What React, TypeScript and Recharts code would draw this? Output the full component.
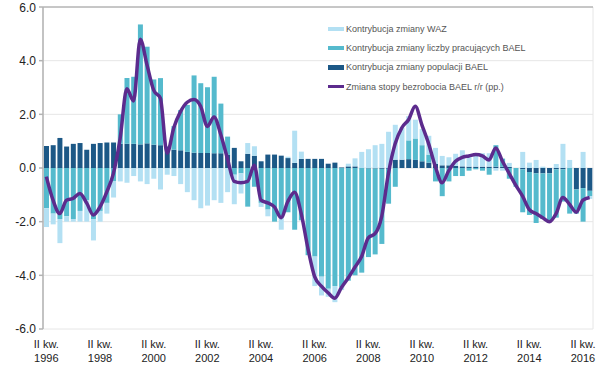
import React from 'react';
import { ComposedChart, Bar, Line, XAxis, YAxis, CartesianGrid } from 'recharts';

// Quarters from II kw. 1996 to III kw. 2016
const romans = ['I', 'II', 'III', 'IV'];
const quarterLabels: { q: string; year: string }[] = [];
for (let k = 0; k < 82; k++) {
  const qi = (1 + k) % 4;
  const year = 1996 + Math.floor((1 + k) / 4);
  quarterLabels.push({ q: romans[qi] + ' kw.', year: String(year) });
}

// Kontrybucja zmiany populacji BAEL
const popContrib = [
  0.82, 0.85, 1.12, 0.8, 0.9, 0.93, 0.68, 0.9, 0.93, 0.95,
  0.95, 0.9, 0.9, 0.9, 0.88, 0.92, 0.87, 0.85, 0.8, 0.68,
  0.66, 0.6, 0.57, 0.56, 0.56, 0.55, 0.55, 0.5, 0.75, 0.25,
  0.53, 0.46, 0.25, 0.5, 0.5, 0.46, 0.37, 0.19, 0.34, 0.34,
  0.34, 0.34, 0.16, 0.2, 0.02, 0.06, 0.06, 0.0, -0.02, -0.02,
  -0.03, -0.03, 0.31, 0.31, 0.33, 0.3, 0.25, 0.2, 0.15, 0.1,
  0.1, 0.08, 0.06, 0.05, 0.05, 0.05, 0.05, 0.05, 0.05, 0.04,
  0.0, -0.05, -0.15, -0.2, -0.2, -0.2, -0.05, -0.05, 0.0, -0.8,
  -0.75, -0.85,
];

// Kontrybucja zmiany liczby pracujących BAEL
const empContrib = [
  -1.5, -1.7, -1.9, -1.8, -1.9, -1.6, -1.2, -1.9, -1.6, -1.3,
  -0.5, 1.1, 2.45, 2.5, 4.47, 3.6, 2.43, 2.5, 0.0, 0.88,
  1.5, 1.75, 2.88, 2.6, 2.45, 2.85, 1.85, 0.67, -0.25, -0.2,
  -1.44, -0.7, -1.3, -1.55, -2.0, -1.8, -1.65, -2.3, -1.95, -3.25,
  -3.3, -4.05, -4.5, -4.4, -4.45, -4.2, -4.0, -3.9, -3.3, -3.2,
  -2.8, -1.3, -0.7, 0.0, 0.7, 0.8, 0.6, 0.3, -0.5, -1.05,
  -0.5, -0.3, -0.3, -0.1, -0.05, -0.1, -0.25, 0.8, 0.3, -0.4,
  -0.7, -1.6, -1.6, -1.85, -1.7, -1.75, -1.8, -1.2, -1.7, -0.9,
  -1.25, -0.2,
];

// Kontrybucja zmiany WAZ
const wazContrib = [
  -0.7, -0.4, -0.9, -0.2, -0.1, -0.4, -0.8, -0.8, -0.4, -0.4,
  -0.6, -0.5, -0.55, -0.3, -0.5, -0.6, -0.4, -0.8, -0.25, -0.3,
  -0.6, -0.9, -1.2, -1.5, -1.4, -1.2, -1.3, -0.9, -1.1, -0.75,
  0.4, 0.35, -0.15, -0.25, 0.0, -0.5, 0.05, 1.2, 0.27, 0.0,
  -1.1, -0.7, -0.3, -0.6, -0.1, 0.1, 0.3, 0.6, 0.7, 0.85,
  0.9, 1.35, 1.3, 1.2, 0.9, 0.7, 0.6, 0.7, 0.6, 0.35,
  0.3, 0.45, 0.6, 0.45, 0.5, 0.5, 0.5, -0.1, -0.1, 0.15,
  0.0, 0.6, 0.2, 0.3, 0.05, 0.0, 0.15, 0.9, 0.3, 0.0,
  0.6, -0.1,
];

// Zmiana stopy bezrobocia BAEL r/r (pp.)
const unempChange = [
  -0.32, -1.2, -1.7, -1.2, -1.13, -0.95, -1.3, -1.75, -1.45, -0.9,
  -0.2, 1.1, 2.95, 2.5, 4.8, 3.85, 2.9, 2.6, 0.55, 1.5,
  2.1, 2.45, 2.55, 2.3, 1.55, 1.9, 1.25, 0.35, -0.5, -0.55,
  -0.5, 0.1, -1.2, -1.3, -1.45, -1.85, -1.25, -0.9, -1.7, -3.0,
  -4.05, -4.4, -4.65, -4.85, -4.45, -4.1, -3.7, -3.3, -2.6, -2.45,
  -1.8, -0.2, 0.9, 1.5, 1.8, 2.3, 1.6, 0.9, 0.05, -0.55,
  -0.1, 0.25, 0.4, 0.45, 0.5, 0.45, 0.3, 0.75, 0.25, -0.2,
  -0.65, -1.05, -1.55, -1.7, -1.85, -2.0, -1.7, -1.1, -1.35, -1.65,
  -1.2, -1.1,
];

const labelTicks = [0, 8, 16, 24, 32, 40, 48, 56, 64, 72, 80];
const boundaryTicks = [7.5, 15.5, 23.5, 31.5, 39.5, 47.5, 55.5, 63.5, 71.5, 79.5];
const yTicks = [-6, -4, -2, 0, 2, 4, 6];

const seriesNames = [
  'Kontrybucja zmiany WAZ',
  'Kontrybucja zmiany liczby pracujących BAEL',
  'Kontrybucja zmiany populacji BAEL',
  'Zmiana stopy bezrobocia BAEL r/r (pp.)',
];

const COLORS = {
  waz: '#b3e0f3',
  emp: '#55bacd',
  pop: '#1c5886',
  line: '#5c2b8d',
};

const data = quarterLabels.map((ql, i) => ({
  idx: i,
  pop: popContrib[i],
  emp: empContrib[i],
  waz: wazContrib[i],
  unemp: unempChange[i],
}));

const FONT = '"Liberation Sans", Arial, sans-serif';

const XTick = (props: any) => {
  const { x, y, payload } = props;
  const ql = quarterLabels[payload.value];
  if (!ql) return null;
  return (
    <text x={x} y={y} textAnchor="middle" fill="#222" fontSize={11} fontFamily={FONT}>
      <tspan x={x} dy={19}>{ql.q}</tspan>
      <tspan x={x} dy={14}>{ql.year}</tspan>
    </text>
  );
};

const LegendRow = ({ color, h, text }: { color: string; h: number; text: string }) => (
  <div style={{ display: 'flex', alignItems: 'center', height: 19.3 }}>
    <div style={{ width: 16, height: h, background: color, marginRight: 2, flexShrink: 0 }} />
    <span style={{ fontSize: 9, color: '#555', fontFamily: FONT, whiteSpace: 'nowrap' }}>{text}</span>
  </div>
);

export default function App() {
  return (
    <div style={{ position: 'absolute', left: 0, top: 0, width: 609, height: 366, background: '#fff' }}>
      <ComposedChart
        width={609}
        height={366}
        data={data}
        stackOffset="sign"
        margin={{ top: 0, right: 16, bottom: 0, left: 0 }}
      >
        <CartesianGrid xAxisId="top" stroke="#e6e6e6" strokeWidth={1} />
        <XAxis
          xAxisId="top"
          orientation="top"
          dataKey="idx"
          type="number"
          domain={[-0.5, 81.5]}
          ticks={boundaryTicks}
          height={7}
          tick={false}
          tickSize={3}
          stroke="#9a9a9a"
          allowDataOverflow
        />
        <XAxis
          dataKey="idx"
          type="number"
          domain={[-0.5, 81.5]}
          ticks={labelTicks}
          interval={0}
          height={37}
          axisLine={false}
          tickLine={false}
          tickSize={0}
          tickMargin={0}
          tick={<XTick />}
          allowDataOverflow
        />
        <YAxis
          domain={[-6, 6]}
          ticks={yTicks}
          width={43}
          tickFormatter={(v: number) => v.toFixed(1)}
          tick={{ fontSize: 12, fill: '#222', fontFamily: FONT }}
          tickSize={4}
          tickMargin={3}
          stroke="#b3b3b3"
          strokeWidth={1.5}
          allowDataOverflow
        />
        <Bar dataKey="pop" stackId="a" fill={COLORS.pop} barSize={5} isAnimationActive={false} name={seriesNames[2]} />
        <Bar dataKey="emp" stackId="a" fill={COLORS.emp} barSize={5} isAnimationActive={false} name={seriesNames[1]} />
        <Bar dataKey="waz" stackId="a" fill={COLORS.waz} barSize={5} isAnimationActive={false} name={seriesNames[0]} />
        <Line
          dataKey="unemp"
          type="monotone"
          stroke={COLORS.line}
          strokeWidth={3.5}
          dot={false}
          isAnimationActive={false}
          name={seriesNames[3]}
        />
      </ComposedChart>
      <div style={{ position: 'absolute', left: 328, top: 19 }}>
        <LegendRow color={COLORS.waz} h={4} text={seriesNames[0]} />
        <LegendRow color={COLORS.emp} h={4} text={seriesNames[1]} />
        <LegendRow color={COLORS.pop} h={5} text={seriesNames[2]} />
        <LegendRow color={COLORS.line} h={3} text={seriesNames[3]} />
      </div>
    </div>
  );
}
